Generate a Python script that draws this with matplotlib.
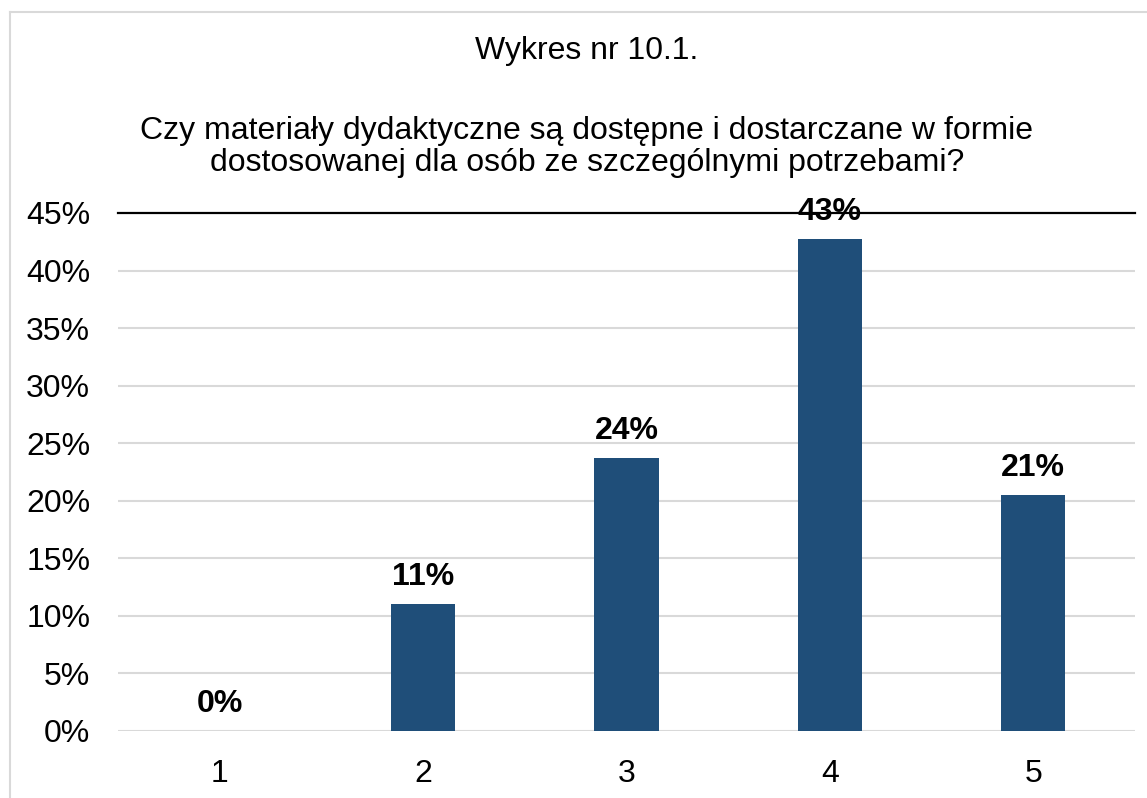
import matplotlib
matplotlib.use("Agg")
import matplotlib.pyplot as plt
from matplotlib.lines import Line2D

categories = ["1", "2", "3", "4", "5"]
values = [0.0, 11.0, 23.7, 42.7, 20.5]
labels = ["0%", "11%", "24%", "43%", "21%"]
yticks = [0, 5, 10, 15, 20, 25, 30, 35, 40, 45]
title1 = "Wykres nr 10.1."
title2 = "Czy materiały dydaktyczne są dostępne i dostarczane w formie\ndostosowanej dla osób ze szczególnymi potrzebami?"

plt.rcParams['font.family'] = ['Liberation Sans', 'DejaVu Sans']

W, H = 1147, 798
FS = 23
fig = plt.figure(figsize=(W/100, H/100), dpi=100)
ax = fig.add_axes([118/W, 1-731/H, (1135-118)/W, (731-213)/H])

x = list(range(1, len(categories)+1))
ax.bar(x, values, width=0.315, color='#1F4E79', zorder=3)
ax.set_xlim(0.5, 5.5)
ax.set_ylim(0, 45)
ax.set_yticks(yticks)
ax.set_yticklabels([f"{t}%" for t in yticks])
ax.set_xticks(x)
ax.set_xticklabels(categories)
for s in ax.spines.values():
    s.set_visible(False)
ax.tick_params(axis='both', length=0, labelsize=FS, colors='black')
ax.tick_params(axis='y', pad=20)
ax.tick_params(axis='x', pad=20)
for t in yticks[:-1]:
    ax.axhline(t, color='#D9D9D9', lw=1.5, zorder=1)
ax.axhline(45, color='black', lw=1.6, zorder=2, clip_on=False)

for xi, v, lab in zip(x, values, labels):
    ax.annotate(lab, (xi, v), xytext=(0, 19.5), textcoords='offset points',
                ha='center', va='center', fontsize=FS, fontweight='bold', zorder=4)

fig.text(587/W, 1-51/H, title1, ha='center', va='center', fontsize=FS)
fig.text(587/W, 1-147/H, title2, ha='center', va='center', fontsize=FS, linespacing=1.07)

fig.add_artist(Line2D([10/W, 10/W], [0, 1-12/H], color='#D9D9D9', lw=1.5, transform=fig.transFigure))
fig.add_artist(Line2D([10/W, 1], [1-12/H, 1-12/H], color='#D9D9D9', lw=1.5, transform=fig.transFigure))

fig.savefig("out.png", dpi=100)
